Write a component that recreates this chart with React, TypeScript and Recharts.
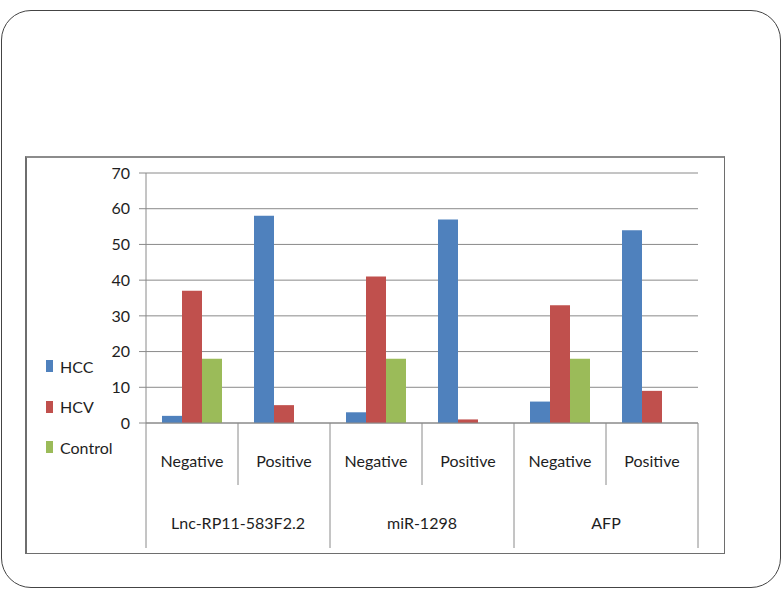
import { BarChart, Bar, XAxis, YAxis, CartesianGrid, Legend } from "recharts";

const categories = ["Negative", "Positive", "Negative", "Positive", "Negative", "Positive"];
const groups = ["Lnc-RP11-583F2.2", "Lnc-RP11-583F2.2", "miR-1298", "miR-1298", "AFP", "AFP"];
const seriesNames = ["HCC", "HCV", "Control"];
const hcc = [2, 58, 3, 57, 6, 54];
const hcv = [37, 5, 41, 1, 33, 9];
const control = [18, 0, 18, 0, 18, 0];
const yTicks = [0, 10, 20, 30, 40, 50, 60, 70];

const data = categories.map((c, i) => ({
  cat: c,
  group: groups[i],
  HCC: hcc[i],
  HCV: hcv[i],
  Control: control[i],
}));

const W = 782;
const H = 590;
const FONT = "Lato, 'Open Sans', sans-serif";
const GRID = "#8a8a8a";
const TEXT = "#1e1e1e";
// plot area spans 146..698, so each category band is about 92px
const BAND = (698 - 146) / data.length;

function CategoryTick(props: any) {
  const { x, y, payload, index } = props;
  const half = payload && payload.offset ? payload.offset : BAND / 2;
  const left = x - half;
  const groupStart = index % 2 === 0;
  return (
    <g>
      <line x1={left} y1={y} x2={left} y2={y + (groupStart ? 125 : 62)} stroke={GRID} />
      {index === data.length - 1 && (
        <line x1={x + half} y1={y} x2={x + half} y2={y + 125} stroke={GRID} />
      )}
      <text x={x} y={y + 44} textAnchor="middle" fontFamily={FONT} fontSize={16} fill={TEXT}>
        {payload.value}
      </text>
      {groupStart && (
        <text x={x + half} y={y + 106} textAnchor="middle" fontFamily={FONT} fontSize={16} fill={TEXT}>
          {groups[index]}
        </text>
      )}
    </g>
  );
}

// legend sorts by name by default, keep the series order instead
const renderLegend = ({ payload }: any) => {
  const items = [...(payload || [])].sort(
    (a: any, b: any) => seriesNames.indexOf(a.value) - seriesNames.indexOf(b.value)
  );
  return (
    <div style={{ fontFamily: FONT, fontSize: 16, color: TEXT }}>
      {items.map((p: any) => (
        <div key={p.value} style={{ display: "flex", alignItems: "center", height: 40.5 }}>
          <span style={{ width: 7, height: 12, background: p.color, marginRight: 7, display: "inline-block" }} />
          <span>{p.value}</span>
        </div>
      ))}
    </div>
  );
};

export default function App() {
  return (
    <div style={{ position: "absolute", left: 0, top: 0, width: W, height: H, background: "#fff" }}>
      <div
        style={{
          position: "absolute",
          left: 1,
          top: 10,
          width: 778,
          height: 576,
          border: "1px solid #444",
          borderRadius: 30,
        }}
      />
      <div
        style={{
          position: "absolute",
          left: 25,
          top: 156,
          width: 697,
          height: 395,
          border: "1px solid #6e6e6e",
          borderTop: "2px solid #8c8c8c",
          borderLeft: "2px solid #6e6e6e",
        }}
      />
      <div style={{ position: "absolute", left: 0, top: 0 }}>
        <BarChart
          width={W}
          height={H}
          data={data}
          margin={{ top: 173, right: 84, left: 100, bottom: 42 }}
          barGap={0}
          barSize={20}
        >
          <CartesianGrid vertical={false} stroke={GRID} />
          <XAxis
            dataKey="cat"
            interval={0}
            height={125}
            tickSize={0}
            tickMargin={0}
            tickLine={false}
            axisLine={{ stroke: GRID }}
            tick={<CategoryTick />}
          />
          <YAxis
            width={46}
            domain={[0, 70]}
            ticks={yTicks}
            interval={0}
            tickSize={7}
            tickMargin={9}
            axisLine={{ stroke: GRID }}
            tickLine={{ stroke: GRID }}
            tick={{ fontFamily: FONT, fontSize: 16, fill: TEXT }}
          />
          <Legend
            layout="vertical"
            align="center"
            verticalAlign="middle"
            wrapperStyle={{ left: 46, top: 346, width: 90 }}
            content={renderLegend}
          />
          <Bar dataKey="HCC" fill="#4F81BD" isAnimationActive={false} />
          <Bar dataKey="HCV" fill="#C0504D" isAnimationActive={false} />
          <Bar dataKey="Control" fill="#9BBB59" isAnimationActive={false} />
        </BarChart>
      </div>
    </div>
  );
}
